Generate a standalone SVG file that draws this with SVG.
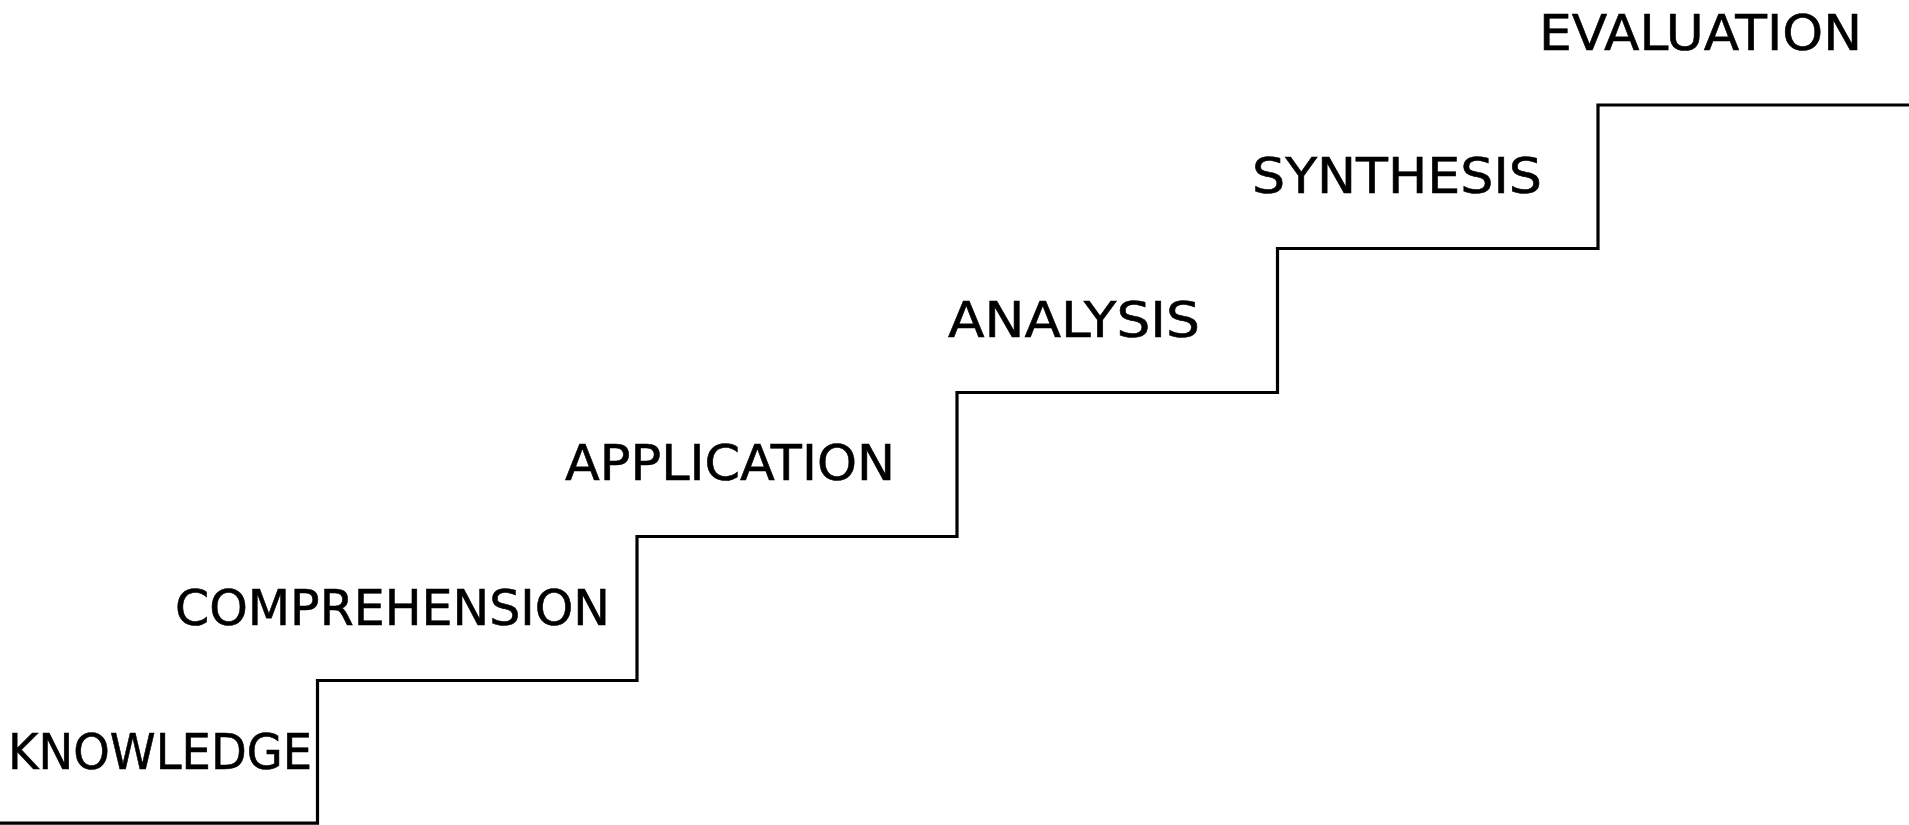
<svg xmlns="http://www.w3.org/2000/svg" width="1909" height="825" viewBox="0 0 1909 825">
<style>
.lbl{font-family:"DejaVu Sans","Liberation Sans",sans-serif;font-size:50px;fill:#000;stroke:#000;stroke-width:0.6}
.stair{fill:none;stroke:#000;stroke-width:3.2;stroke-linejoin:miter}
</style>
<rect width="1909" height="825" fill="#fff"/>
<g id="connectors">
<path class="stair" d="M0 823.2 H317.5 V680.5 H637 V536.5 H957 V392.5 H1277.5 V248.5 H1598 V105 H1909"/>
</g>
<g id="knowledge"><text class="lbl" x="8" y="769" textLength="304" lengthAdjust="spacingAndGlyphs">KNOWLEDGE</text></g>
<g id="comprehension"><text class="lbl" x="175" y="625" textLength="435" lengthAdjust="spacingAndGlyphs">COMPREHENSION</text></g>
<g id="application"><text class="lbl" x="565" y="480" textLength="330" lengthAdjust="spacingAndGlyphs">APPLICATION</text></g>
<g id="analysis"><text class="lbl" x="948" y="337" textLength="252" lengthAdjust="spacingAndGlyphs">ANALYSIS</text></g>
<g id="synthesis"><text class="lbl" x="1252" y="193" textLength="290" lengthAdjust="spacingAndGlyphs">SYNTHESIS</text></g>
<g id="evaluation"><text class="lbl" x="1539" y="50" textLength="323" lengthAdjust="spacingAndGlyphs">EVALUATION</text></g>
</svg>
